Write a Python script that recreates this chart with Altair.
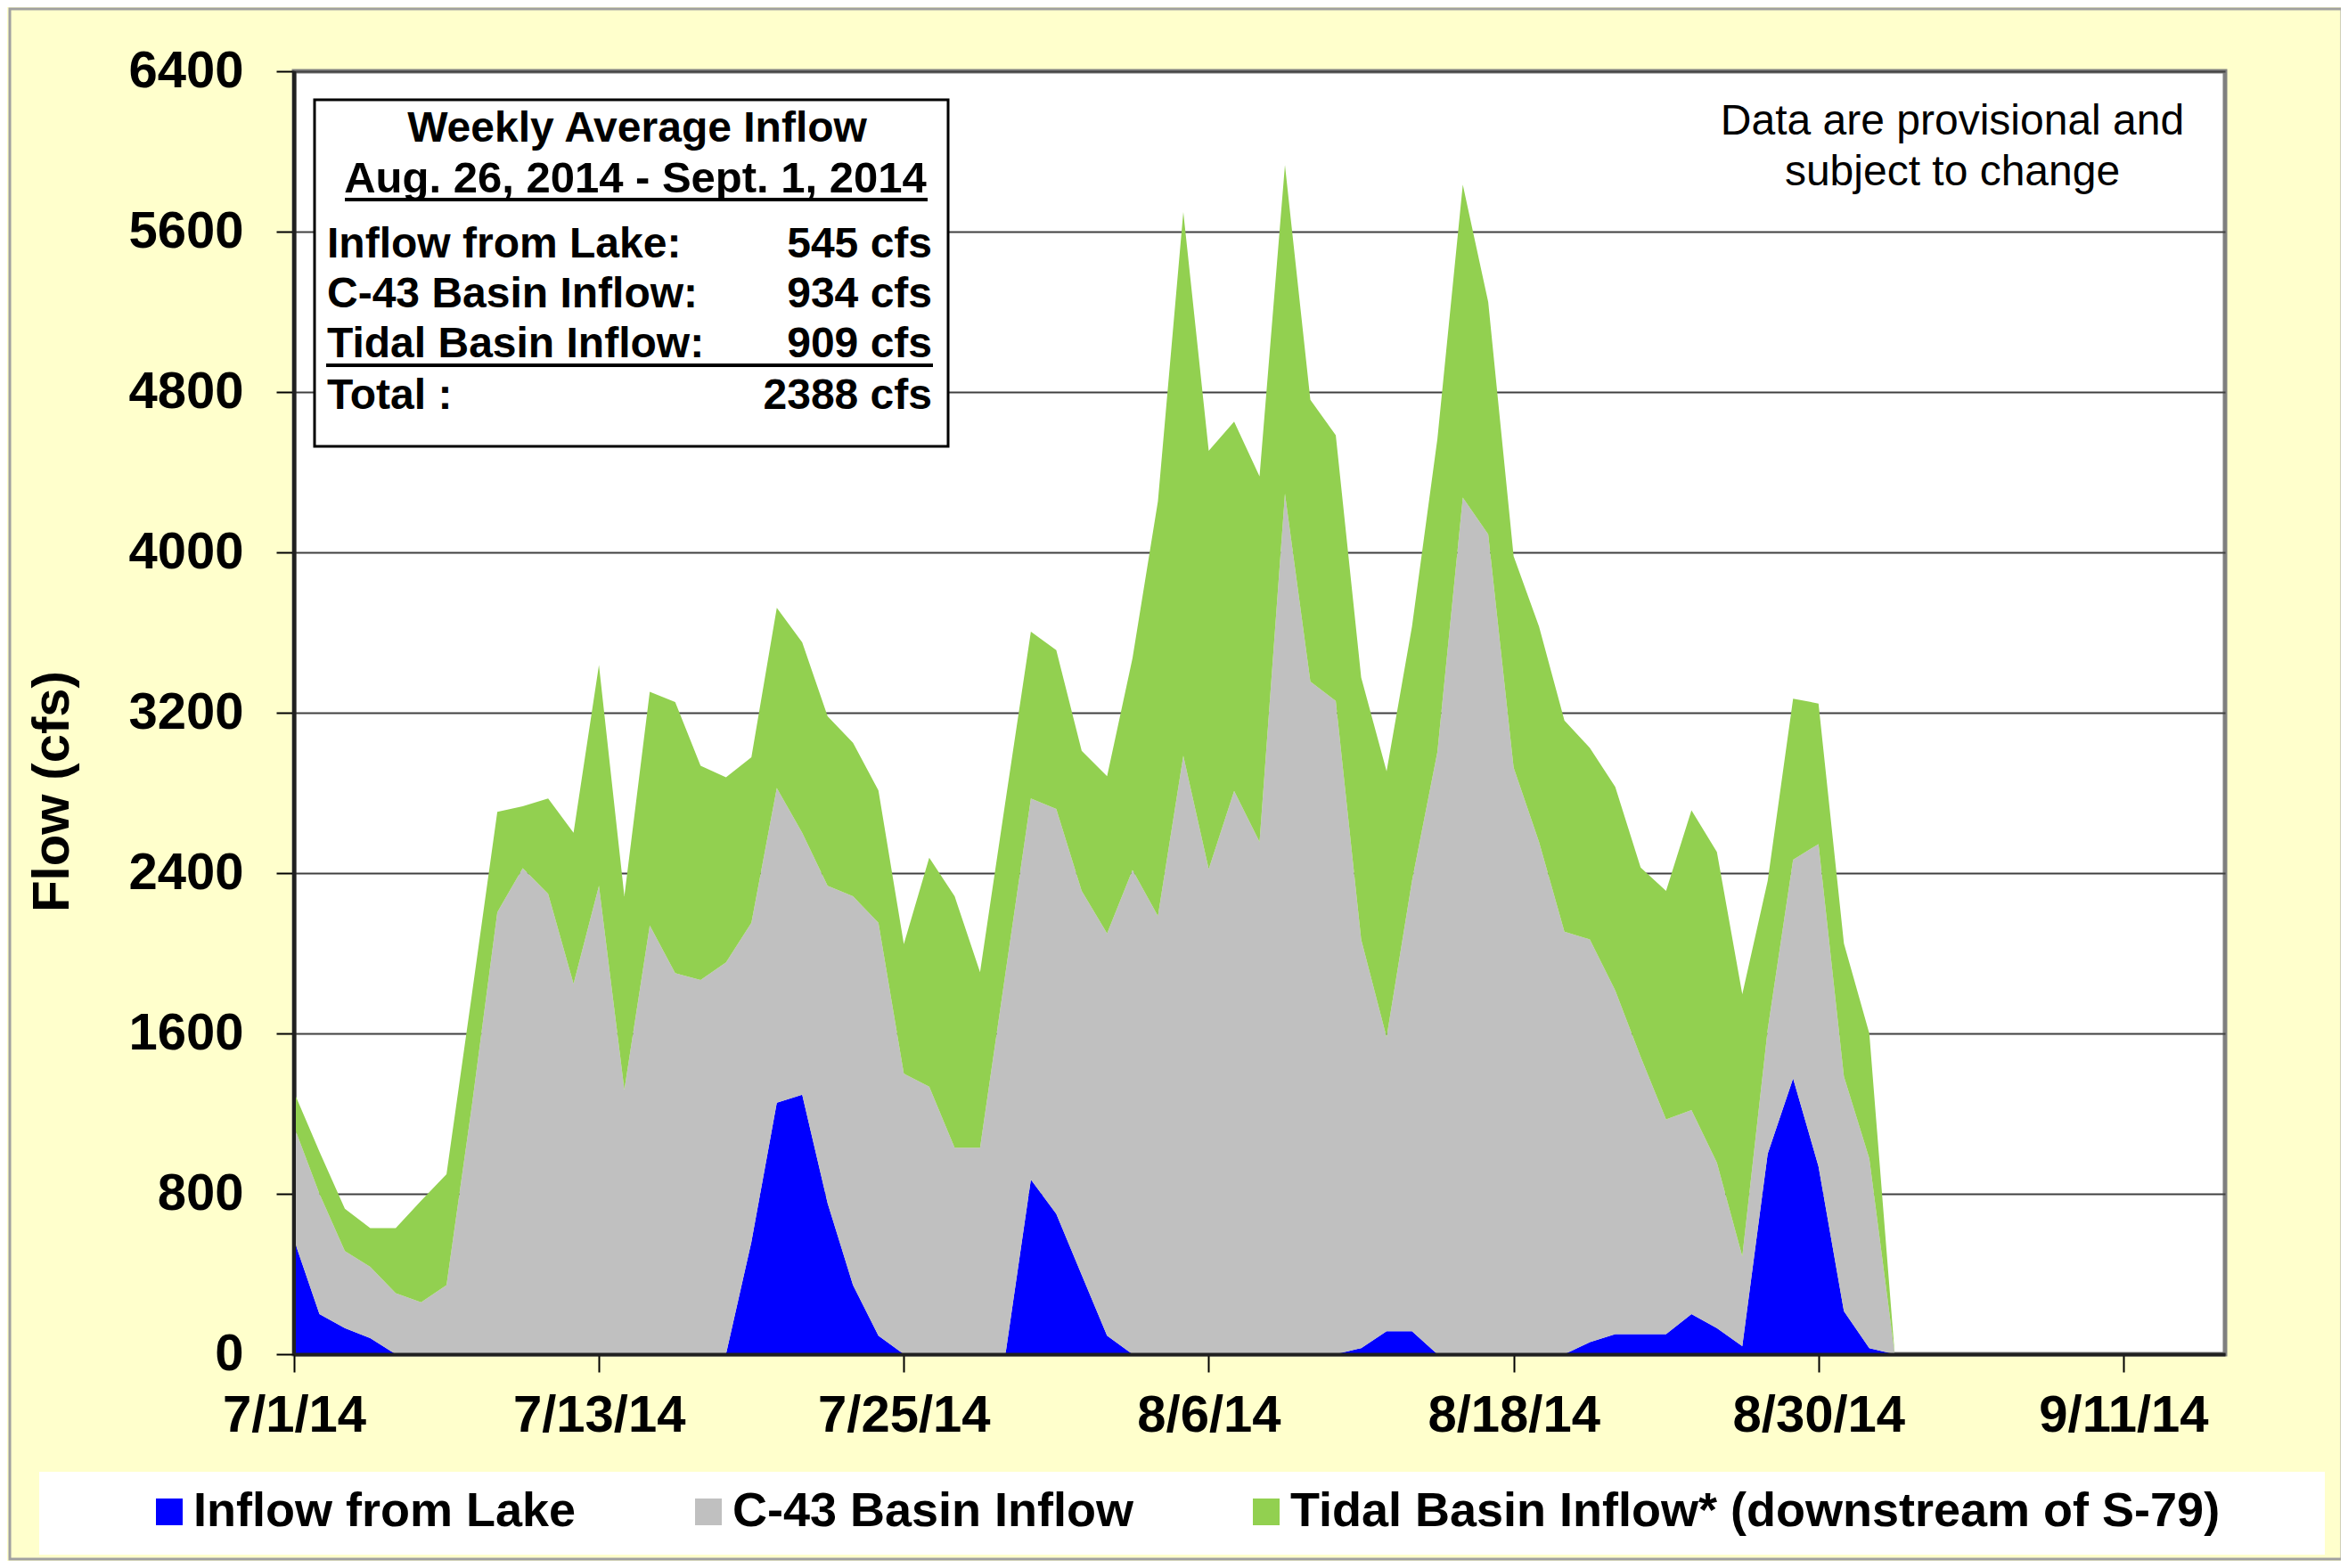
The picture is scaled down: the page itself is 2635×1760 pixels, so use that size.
import altair as alt
import pandas as pd

# ---------------- data ----------------
dates = pd.date_range("2014-07-01", "2014-09-02", freq="D").strftime("%Y-%m-%d").tolist()

lake = [570, 200, 130, 80, 0, 0, 0, 0, 0, 0,
        0, 0, 0, 0, 0, 0, 0, 0, 560, 1254,
        1294, 753, 344, 92, 0, 0, 0, 0, 0, 871,
        700, 396, 92, 0, 0, 0, 0, 0, 0, 0,
        0, 0, 30, 115, 115, 0, 0, 0, 0, 0,
        0, 60, 100, 100, 100, 200, 130, 40, 1000, 1376,
        937, 215, 30, 0]

c43 = [566, 600, 385, 356, 304, 259, 344, 1241, 2205, 2424,
       2297, 1848, 2337, 1320, 2139, 1901, 1867, 1954, 1592, 1571,
       1307, 1584, 1940, 2060, 1400, 1334, 1030, 1030, 1901, 1901,
       2020, 1915, 2007, 2416, 2186, 2986, 2420, 2810, 2556, 4293,
       3356, 3259, 2039, 1466, 2246, 3005, 4273, 4090, 2927, 2556,
       2108, 2009, 1715, 1383, 1071, 1018, 826, 448, 620, 1091,
       1608, 1171, 946, 0]

tidal = [171, 210, 211, 193, 325, 507, 554, 555, 501, 309,
         475, 753, 1101, 964, 1166, 1352, 1069, 924, 826, 898,
         950, 845, 766, 660, 646, 1143, 1254, 876, 858, 832,
         792, 699, 784, 1056, 2068, 2712, 2087, 1842, 1823, 1639,
         1405, 1326, 1307, 1327, 1269, 1561, 1561, 1159, 1054, 1074,
         1053, 956, 1015, 945, 1140, 1495, 1550, 1308, 741, 803,
         701, 663, 624, 0]

series_names = ["Inflow from Lake", "C-43 Basin Inflow",
                "Tidal Basin Inflow* (downstream of S-79)"]
series_colors = ["#0000FF", "#C0C0C0", "#92D050"]

y_ticks = [0, 800, 1600, 2400, 3200, 4000, 4800, 5600, 6400]
x_ticks = [(7, 1), (7, 13), (7, 25), (8, 6), (8, 18), (8, 30), (9, 11)]

box_header = ["Weekly Average Inflow", "Aug. 26, 2014 - Sept. 1, 2014"]
box_labels = ["Inflow from Lake:", "C-43 Basin Inflow:", "Tidal Basin Inflow:", "Total :"]
box_values = ["545 cfs", "934 cfs", "909 cfs", "2388 cfs"]
note_lines = ["Data are provisional and", "subject to change"]

# ---------------- tables ----------------
rows = []
for k, (name, vals) in enumerate(zip(series_names, [lake, c43, tidal])):
    for d, v in zip(dates, vals):
        rows.append({"date": d, "series": name, "value": v, "ord": k})
df = pd.DataFrame(rows)

FONT = "Liberation Sans"
W, H = 2167, 1440
one = pd.DataFrame({"a": [0]})

def dt(m, d):
    return alt.DateTime(year=2014, month=m, date=d, utc=True)

x_enc = alt.X(
    "date:T",
    scale=alt.Scale(type="utc", domain=[dt(7, 1), dt(9, 15)]),
    axis=alt.Axis(
        values=[dt(m, d) for m, d in x_ticks],
        labelExpr="utcFormat(datum.value, '%-m/%-d/%y')",
        labelFontSize=58, labelFontWeight="bold", labelFont=FONT, labelColor="black",
        labelPadding=20, labelFlush=False, labelOverlap=False, labelAngle=0, labelLimit=1000,
        tickSize=20, tickColor="black", tickWidth=2,
        domainColor="#202020", domainWidth=4, grid=False, title=None, zindex=1,
    ),
)
y_enc = alt.Y(
    "value:Q", stack="zero",
    scale=alt.Scale(domain=[0, 6400], nice=False),
    axis=alt.Axis(
        values=y_ticks, format="d",
        labelFontSize=58, labelFontWeight="bold", labelFont=FONT, labelColor="black",
        labelPadding=37, labelFlush=False,
        tickSize=20, tickColor="black", tickWidth=2,
        domainColor="#202020", domainWidth=4,
        grid=True, gridColor="#404040", gridWidth=2, zindex=0,
        title="Flow (cfs)", titleFont=FONT, titleFontSize=58, titleFontWeight="bold",
        titleColor="black", titleAngle=270, titleX=-271, titleY=808,
        titleAlign="center", titleBaseline="middle",
    ),
)

areas = alt.Chart(df).mark_area(interpolate="linear", opacity=1).encode(
    x=x_enc,
    y=y_enc,
    color=alt.Color(
        "series:N",
        scale=alt.Scale(domain=series_names, range=series_colors),
        legend=alt.Legend(
            title=None, orient="none", legendX=-167, legendY=1590,
            direction="horizontal", symbolType="square", symbolSize=900,
            symbolStrokeWidth=0, symbolOpacity=1,
            labelFont=FONT, labelFontSize=54, labelFontWeight="bold",
            labelColor="black", labelOffset=0, columnPadding=121, labelLimit=3000,
        ),
    ),
    order=alt.Order("ord:Q", sort="ascending"),
)

layers = [areas]

# left axis line drawn over the areas
layers.append(alt.Chart(one).mark_rule(color="#202020", strokeWidth=4).encode(
    x=alt.value(0), y=alt.value(0), y2=alt.value(H)))

# outer frame and legend box
layers.append(alt.Chart(one).mark_rect(fillOpacity=0, stroke="#A0A0A0", strokeWidth=3).encode(
    x=alt.value(-319), x2=alt.value(2298), y=alt.value(-70), y2=alt.value(1670)))
layers.append(alt.Chart(one).mark_rect(fill="white").encode(
    x=alt.value(-286), x2=alt.value(2279), y=alt.value(1572), y2=alt.value(1665)))

# summary box
layers.append(alt.Chart(one).mark_rect(fill="white", stroke="black", strokeWidth=3).encode(
    x=alt.value(23), x2=alt.value(734), y=alt.value(32), y2=alt.value(421)))

def txt(s, x, y, align="left", weight="bold", size=48):
    return alt.Chart(one).mark_text(
        text=s, align=align, baseline="alphabetic", font=FONT, fontSize=size,
        fontWeight=weight, color="black",
    ).encode(x=alt.value(x), y=alt.value(y))

layers.append(txt(box_header[0], 385, 79, align="center", size=48))
layers.append(txt(box_header[1], 383, 136, align="center", size=49))
layers.append(alt.Chart(one).mark_rule(color="black", strokeWidth=4).encode(
    x=alt.value(57), x2=alt.value(711), y=alt.value(144)))
for lab, val, yy in zip(box_labels, box_values, [209, 265, 321, 379]):
    layers.append(txt(lab, 37, yy))
    layers.append(txt(val, 716, yy, align="right"))
layers.append(alt.Chart(one).mark_rule(color="black", strokeWidth=4).encode(
    x=alt.value(36), x2=alt.value(717), y=alt.value(330)))

# provisional note
layers.append(txt(note_lines[0], 1861, 71, align="center", weight="normal", size=48))
layers.append(txt(note_lines[1], 1861, 128, align="center", weight="normal", size=48))

chart = alt.layer(*layers).properties(
    width=W, height=H,
    padding={"left": 322, "top": 72, "right": 130, "bottom": 232},
    autosize=alt.AutoSizeParams(type="none"),
    background="#FFFFCC",
).configure_view(fill="white", stroke="#7F7F7F", strokeWidth=5)

chart.save("out.html", embed_options={"renderer": "svg", "actions": False})
